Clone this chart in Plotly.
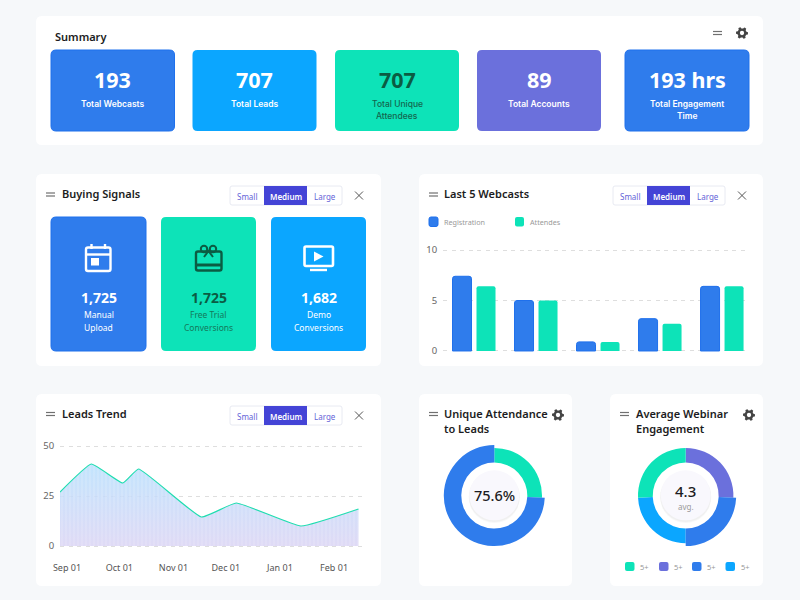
import math
import plotly.graph_objects as go

# Colours
BLUE = '#2F7CEC'
BLUE_EDGE = '#1F70EC'
SKY = '#0BA6FF'
GREEN = '#0DE3B8'
PURPLE = '#6B70DC'
DARK_GREEN = '#0B5C43'
INDIGO = '#4444D6'
INK = '#1C1C22'

# Summary cards
summary_values = ['193', '707', '707', '89', '193 hrs']
summary_labels = [['Total Webcasts'], ['Total Leads'], ['Total Unique', 'Attendees'],
                  ['Total Accounts'], ['Total Engagement', 'Time']]

# Buying signals
signal_values = ['1,725', '1,725', '1,682']
signal_labels = [['Manual', 'Upload'], ['Free Trial', 'Conversions'], ['Demo', 'Conversions']]

# Last 5 webcasts
webcasts = ['Webcast 1', 'Webcast 2', 'Webcast 3', 'Webcast 4', 'Webcast 5']
registration = [7.4, 5.0, 0.9, 3.2, 6.4]
attendees = [6.4, 5.0, 0.9, 2.7, 6.4]

# Leads trend
trend_dates = ['2022-08-28', '2022-09-15', '2022-10-03', '2022-10-12', '2022-11-17',
               '2022-12-07', '2023-01-13', '2023-02-15']
trend_leads = [27, 41, 31.5, 38.5, 14.5, 21.5, 10, 18.5]

# Donuts, slice sizes as drawn in the picture
attendance_share = [25.7, 74.3]
engagement_share = [25.7, 24.3, 24.3, 25.7]
engagement_legend = ['5+', '5+', '5+', '5+']

shapes = []
notes = []


def px(x):
    return x / 800


def py(y):
    return 1 - y / 600


def round_rect(x0, y0, x1, y1, r=5, fill='white', line=None, width=1):
    X0, X1, Y0, Y1 = px(x0), px(x1), py(y0), py(y1)
    rx, ry = r / 800, r / 600
    path = (f'M {X0 + rx} {Y0} L {X1 - rx} {Y0} Q {X1} {Y0} {X1} {Y0 - ry} '
            f'L {X1} {Y1 + ry} Q {X1} {Y1} {X1 - rx} {Y1} '
            f'L {X0 + rx} {Y1} Q {X0} {Y1} {X0} {Y1 + ry} '
            f'L {X0} {Y0 - ry} Q {X0} {Y0} {X0 + rx} {Y0} Z')
    shapes.append(dict(type='path', xref='paper', yref='paper', path=path, fillcolor=fill,
                       line=dict(color=line or 'rgba(0,0,0,0)', width=width if line else 0),
                       layer='below'))


def poly(points, fill=None, line=None, width=1, close=True):
    path = 'M ' + ' L '.join(f'{px(a)} {py(b)}' for a, b in points) + (' Z' if close else '')
    shapes.append(dict(type='path', xref='paper', yref='paper', path=path,
                       fillcolor=fill or 'rgba(0,0,0,0)',
                       line=dict(color=line or 'rgba(0,0,0,0)', width=width if line else 0),
                       layer='below'))


def circle(cx, cy, r, fill=None, line=None, width=1):
    shapes.append(dict(type='circle', xref='paper', yref='paper', x0=px(cx - r), x1=px(cx + r),
                       y0=py(cy + r), y1=py(cy - r), fillcolor=fill or 'rgba(0,0,0,0)',
                       line=dict(color=line or 'rgba(0,0,0,0)', width=width if line else 0),
                       layer='below'))


def label(x, y, text, size=9, color='white', weight=400, anchor='center', family='Inter'):
    notes.append(dict(xref='paper', yref='paper', x=px(x), y=py(y), text=text, showarrow=False,
                      xanchor=anchor, yanchor='middle', borderpad=0,
                      font=dict(family=family, size=size, color=color, weight=weight)))


def hamburger(x, y, w=9):
    poly([(x, y - 1.5), (x + w, y - 1.5)], line='#707070', width=1.2, close=False)
    poly([(x, y + 1.5), (x + w, y + 1.5)], line='#707070', width=1.2, close=False)


def gear(cx, cy, r=6):
    pts = []
    for i in range(48):
        a = 2 * math.pi * i / 48
        tooth = (i + 1) % 8 < 4
        pts.append((cx + (r if tooth else r * 0.76) * math.cos(a), cy + (r if tooth else r * 0.76) * math.sin(a)))
    poly(pts, fill='#444444')
    circle(cx, cy, r * 0.36, fill='white')


def close_icon(cx, cy):
    poly([(cx - 4, cy - 4), (cx + 4, cy + 4)], line='#555555', width=1, close=False)
    poly([(cx - 4, cy + 4), (cx + 4, cy - 4)], line='#555555', width=1, close=False)


def size_switch(x, y):
    round_rect(x, y, x + 112, y + 19, r=2, fill='white', line='#E8EAF2')
    round_rect(x + 34, y, x + 77, y + 19, r=0, fill=INDIGO)
    label(x + 17, y + 10, 'Small', 8, '#6464D8', family='Noto Sans')
    label(x + 55.5, y + 10, 'Medium', 8, 'white', 600, family='Noto Sans')
    label(x + 95, y + 10, 'Large', 8, '#6464D8', family='Noto Sans')


def panel_title(x, y, text):
    label(x, y, text, 11, INK, 600, anchor='left', family='Noto Sans')


# Panels
for box in [(36, 16, 763, 145), (36, 174, 381, 366), (419, 174, 763, 366),
            (36, 394, 381, 586), (419, 394, 572, 586), (610, 394, 763, 586)]:
    round_rect(*box, r=6)

# Summary
panel_title(53.5, 36.5, 'Summary')
hamburger(713, 33)
gear(742, 33)
summary_x = [(51, 174.5), (192.5, 316.5), (335, 459), (477, 601), (625, 749)]
summary_fill = [BLUE, SKY, GREEN, PURPLE, BLUE]
for (x0, x1), fill, value, lines in zip(summary_x, summary_fill, summary_values, summary_labels):
    round_rect(x0, 50, x1, 131, r=5, fill=fill, line=BLUE_EDGE if fill == BLUE else None)
    dark = fill == GREEN
    mid = (x0 + x1) / 2
    label(mid, 80, value, 21.5, DARK_GREEN if dark else 'white', 700, family='Noto Sans')
    for i, line in enumerate(lines):
        label(mid, 104 + 12 * i, line, 8.5, '#14674F' if dark else 'white', 500 if dark else 600)

# Buying signals
hamburger(46, 194.5)
panel_title(60.5, 194, 'Buying Signals')
size_switch(230, 186)
close_icon(359, 195.5)
signal_x = [(51, 146), (161, 256), (271, 366)]
signal_fill = [BLUE, GREEN, SKY]
for (x0, x1), fill, value, lines in zip(signal_x, signal_fill, signal_values, signal_labels):
    round_rect(x0, 217, x1, 351, r=5, fill=fill, line=BLUE_EDGE if fill == BLUE else None)
    dark = fill == GREEN
    mid = (x0 + x1) / 2
    label(mid, 297.5, value, 14, DARK_GREEN if dark else 'white', 700, family='Noto Sans')
    for i, line in enumerate(lines):
        label(mid, 314.5 + 13 * i, line, 8.5, '#14795C' if dark else 'white', family='Noto Sans')

# Calendar icon
round_rect(86, 247.5, 110.5, 271, r=2, fill='rgba(0,0,0,0)', line='white', width=2.4)
poly([(86, 254.5), (110.5, 254.5)], line='white', width=2.4, close=False)
poly([(91.5, 244), (91.5, 249)], line='white', width=2.4, close=False)
poly([(105, 244), (105, 249)], line='white', width=2.4, close=False)
round_rect(91, 258, 99, 265.5, r=0, fill='white')

# Gift icon
round_rect(196, 251.5, 221.5, 270.5, r=2, fill='rgba(0,0,0,0)', line=DARK_GREEN, width=2.4)
poly([(196, 265), (221.5, 265)], line=DARK_GREEN, width=3, close=False)
circle(204, 249, 3.2, line=DARK_GREEN, width=2)
circle(213, 249, 3.2, line=DARK_GREEN, width=2)
poly([(204, 257), (208.5, 251), (213, 257)], line=DARK_GREEN, width=2, close=False)

# Monitor icon
round_rect(304.5, 246.5, 333, 266, r=1.5, fill='rgba(0,0,0,0)', line='white', width=2.6)
poly([(310, 270), (327, 270)], line='white', width=2.4, close=False)
poly([(314, 251.5), (323.5, 256.5), (314, 261.5)], fill='white')

# Last 5 webcasts furniture
hamburger(429, 194.5)
panel_title(443.5, 194, 'Last 5 Webcasts')
size_switch(613, 186)
close_icon(742, 195.5)
round_rect(429, 217, 438, 226.5, r=2, fill=BLUE, line=BLUE_EDGE)
label(443, 222, 'Registration', 7.2, '#999999', anchor='left', family='Noto Sans')
round_rect(515, 217, 524, 226.5, r=2, fill=GREEN)
label(529, 222, 'Attendes', 7.2, '#999999', anchor='left', family='Noto Sans')

# Leads trend furniture
hamburger(46, 414)
panel_title(60.5, 414, 'Leads Trend')
size_switch(230, 406)
close_icon(359, 415.5)

# Donut furniture
hamburger(429, 414)
panel_title(443.5, 414, 'Unique Attendance')
panel_title(443.5, 428.7, 'to Leads')
gear(558, 415)
hamburger(620, 414)
panel_title(635, 414, 'Average Webinar')
panel_title(635, 428.7, 'Engagement')
gear(749, 415)

for cx in (494.3, 685.7):
    circle(cx, 497.5, 25.5, fill='rgba(120,120,120,0.05)')
    circle(cx, 496.5, 25.5, fill='rgba(120,120,120,0.06)')
    circle(cx, 495.3, 25, fill='#F9F8FD')
label(494.3, 495, '75.6%', 14.5, INK, 500, family='Noto Sans')
label(685.7, 490.7, '4.3', 15, INK, 500, family='Noto Sans')
label(685.7, 506, 'avg.', 8, '#999999', family='Noto Sans')

legend_x = [625, 659, 692, 725.5]
for x, fill, text in zip(legend_x, [GREEN, PURPLE, BLUE, SKY], engagement_legend):
    round_rect(x, 562, x + 9.5, 571, r=2, fill=fill)
    label(x + 14, 566.5, text, 7.5, '#999999', anchor='left', family='Noto Sans')

fig = go.Figure()

# Bars
fig.add_trace(go.Bar(x=webcasts, y=registration, name='Registration', xaxis='x', yaxis='y',
                     marker=dict(color=BLUE, line=dict(color=BLUE_EDGE, width=1))))
fig.add_trace(go.Bar(x=webcasts, y=attendees, name='Attendes', xaxis='x', yaxis='y',
                     marker=dict(color=GREEN, line=dict(width=0))))

# Trend area, stripes on top of the gradient, then the line
fig.add_trace(go.Scatter(x=trend_dates, y=trend_leads, xaxis='x2', yaxis='y2', mode='lines',
                         line=dict(width=0, shape='spline', smoothing=0.35), fill='tozeroy',
                         fillgradient=dict(type='vertical',
                                           colorscale=[[0, 'rgba(218,212,244,0.85)'],
                                                       [1, 'rgba(184,224,253,0.85)']])))
fig.add_trace(go.Scatter(x=trend_dates, y=trend_leads, xaxis='x2', yaxis='y2', mode='lines',
                         line=dict(width=0, shape='spline', smoothing=0.35), fill='tozeroy',
                         fillcolor='rgba(0,0,0,0)',
                         fillpattern=dict(shape='|', size=4, solidity=0.4,
                                          fgcolor='rgba(255,255,255,0.3)', bgcolor='rgba(0,0,0,0)')))
fig.add_trace(go.Scatter(x=trend_dates, y=trend_leads, xaxis='x2', yaxis='y2', mode='lines',
                         line=dict(color='#1FDDB0', width=1.2, shape='spline', smoothing=0.35)))


def pie_domain(cx, cy, r):
    return dict(x=[px(cx - r), px(cx + r)], y=[py(cy + r), py(cy - r)])


def donut(values, colors, cx, cy, r, inner):
    fig.add_trace(go.Pie(values=values, sort=False, direction='clockwise', rotation=0,
                         hole=inner / r, textinfo='none', hoverinfo='skip',
                         marker=dict(colors=colors, line=dict(width=0)),
                         domain=pie_domain(cx, cy, r), showlegend=False))


CLEAR = 'rgba(0,0,0,0)'
donut(attendance_share, [GREEN, CLEAR], 494.3, 495.6, 47.7, 33)
donut(attendance_share, [CLEAR, BLUE], 494.3, 495.6, 50.5, 33)
donut(engagement_share, [PURPLE, CLEAR, SKY, GREEN], 685.7, 495.6, 47.7, 33)
donut(engagement_share, [CLEAR, BLUE, CLEAR, CLEAR], 685.7, 495.6, 50.5, 33)

grid = dict(automargin=False, showgrid=True, gridcolor='#DEDEDE', griddash='4px,4.5px', gridwidth=1,
            zeroline=False, showline=False, ticks='outside', ticklen=3, tickcolor='rgba(0,0,0,0)',
            tickfont=dict(family='Noto Sans', size=9.5, color='#666666'))

fig.update_layout(
    width=800, height=600, margin=dict(l=0, r=0, t=0, b=0),
    paper_bgcolor='#F6F8FA', plot_bgcolor='rgba(0,0,0,0)',
    showlegend=False, barmode='group', bargap=0.226, bargroupgap=0.208, barcornerradius=2.5,
    shapes=shapes, annotations=notes,
    xaxis=dict(automargin=False, domain=[px(443), px(745)], range=[-0.5, 4.37], showticklabels=False,
               showgrid=False, zeroline=False, ticks=''),
    # ranges run past the ticks, gridlines closer than 1px to the edge are not drawn
    yaxis=dict(domain=[py(353), py(248)], range=[-0.2, 10.2], tickvals=[0, 5, 10], **grid),
    xaxis2=dict(automargin=False, domain=[px(60), px(362)], range=['2022-08-28', '2023-02-17'], type='date',
                tick0='2022-09-01', dtick='M1', tickformat='%b %d', showgrid=False, zeroline=False,
                ticks='outside', ticklen=11, tickcolor='rgba(0,0,0,0)', anchor='y2',
                tickfont=dict(family='Noto Sans', size=9, color='#555555')),
    yaxis2=dict(domain=[py(548), py(444)], range=[-1, 51], tickvals=[0, 25, 50], anchor='x2', **grid),
)

fig.write_html('out.html', config=dict(displayModeBar=False),
               post_script="document.body.style.margin='0';document.body.style.overflow='hidden';")
